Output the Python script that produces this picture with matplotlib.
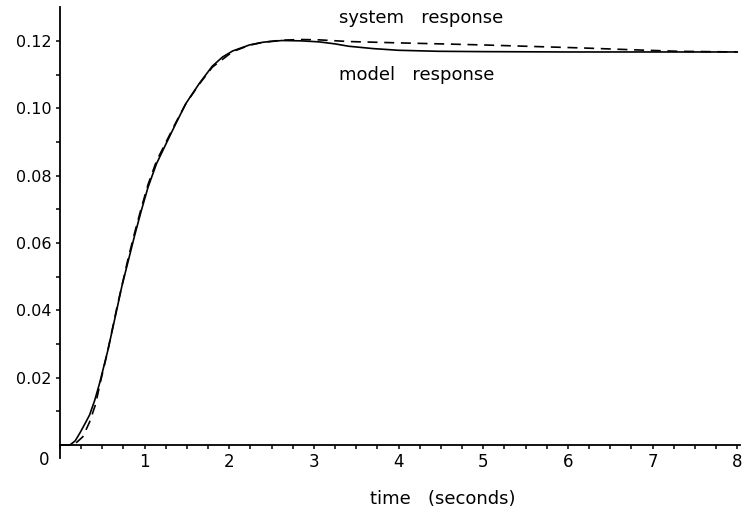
"""Step response: system vs fitted model."""

import matplotlib

matplotlib.use("Agg")
import matplotlib.pyplot as plt
from matplotlib.ticker import MultipleLocator, FixedLocator

# model response (solid)
t_model = [0.0, 0.12, 0.18, 0.235, 0.3, 0.35, 0.41, 0.47, 0.565, 0.67, 0.73, 0.8,
           0.88, 0.96, 1.04, 1.14, 1.26, 1.37, 1.49, 1.65, 1.8, 1.92, 2.04, 2.24,
           2.4, 2.62, 2.85, 3.06, 3.25, 3.41, 3.7, 4.0, 4.47, 5.0, 6.0, 7.0, 8.0]
v_model = [0.0, 0.0, 0.0012, 0.0035, 0.0065, 0.0089, 0.0132, 0.0185, 0.028, 0.040,
           0.047, 0.054, 0.062, 0.0695, 0.0765, 0.0835, 0.0898, 0.0955, 0.1015,
           0.1075, 0.1125, 0.1152, 0.117, 0.1188, 0.1196, 0.1201, 0.12, 0.1197,
           0.1191, 0.1184, 0.1177, 0.1172, 0.1169, 0.1168, 0.1167, 0.1167, 0.1167]

# system response (dashed)
t_sys = [0.0, 0.15, 0.2, 0.27, 0.35, 0.42, 0.47, 0.565, 0.67, 0.8, 0.88, 0.96,
         1.04, 1.14, 1.26, 1.37, 1.49, 1.65, 1.8, 2.04, 2.24, 2.4, 2.62, 2.85,
         3.06, 3.41, 4.0, 4.5, 4.98, 5.5, 6.16, 6.6, 6.94, 7.3, 8.0]
v_sys = [0.0, 0.0, 0.0008, 0.0024, 0.0068, 0.012, 0.0178, 0.028, 0.0405, 0.0548,
         0.0628, 0.0703, 0.0773, 0.0843, 0.0903, 0.0958, 0.1015, 0.1073, 0.1122,
         0.1168, 0.1187, 0.1196, 0.1202, 0.1204, 0.1203, 0.1198, 0.1194, 0.1191,
         0.1188, 0.1184, 0.1179, 0.1175, 0.1172, 0.1169, 0.1167]

y_ticks = [0.02, 0.04, 0.06, 0.08, 0.10, 0.12]
y_labels = ["0.02", "0.04", "0.06", "0.08", "0.10", "0.12"]
x_ticks = [1, 2, 3, 4, 5, 6, 7, 8]

plt.rcParams["font.family"] = "DejaVu Sans"
fig = plt.figure(figsize=(7.45, 5.14), dpi=100)
ax = fig.add_axes([0.0805, 0.109, 0.9125, 0.877])

ax.plot(t_model, v_model, color="black", lw=1.2, solid_joinstyle="round")
ax.plot(t_sys, v_sys, color="black", lw=1.2, dashes=(6, 4))

ax.set_xlim(0, 8.03)
ax.set_ylim(-0.0039, 0.13)
for side in ("top", "right"):
    ax.spines[side].set_visible(False)
ax.spines["bottom"].set_position(("data", 0))
ax.spines["bottom"].set_linewidth(1.3)
ax.spines["left"].set_linewidth(1.3)

ax.yaxis.set_major_locator(FixedLocator(y_ticks))
ax.set_yticklabels(y_labels)
ax.yaxis.set_minor_locator(FixedLocator([0.01, 0.03, 0.05, 0.07, 0.09, 0.11]))
ax.xaxis.set_major_locator(FixedLocator(x_ticks))
ax.set_xticklabels([str(x) for x in x_ticks])
ax.xaxis.set_minor_locator(MultipleLocator(0.25))
ax.tick_params(axis="both", which="both", direction="out", length=3, width=1.1)
ax.tick_params(axis="y", labelsize=11.5, pad=3)
ax.tick_params(axis="x", labelsize=12, pad=3)

ax.text(-0.19, -0.0045, "0", ha="center", va="center", fontsize=12, clip_on=False)
ax.text(3.29, 0.1267, "system   response", ha="left", va="center", fontsize=13)
ax.text(3.29, 0.1098, "model   response", ha="left", va="center", fontsize=13)
fig.text(443 / 745, 1 - 499 / 514, "time   (seconds)", ha="center", va="center",
         fontsize=13)

fig.savefig("out.png", dpi=100)
plt.close(fig)
